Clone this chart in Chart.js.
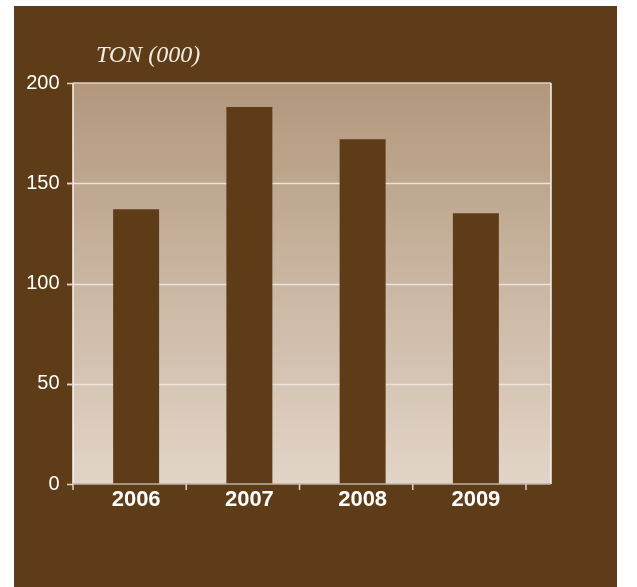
<!DOCTYPE html>
<html>
<head>
<meta charset="utf-8">
<script src="https://cdn.jsdelivr.net/npm/chart.js@4"></script>
<style>
  html, body { margin: 0; padding: 0; background: #ffffff; }
  #wrap { width: 637px; height: 587px; }
</style>
</head>
<body>
<div id="wrap"><canvas id="c" width="637" height="587"></canvas></div>
<script>
const categories = ['2006', '2007', '2008', '2009'];
const tonnage = [137, 188, 172, 135];
const yTicks = [0, 50, 100, 150, 200];
const unitTitle = 'TON (000)';

const BROWN = 'rgb(94,60,24)';

const decor = {
  id: 'decor',
  beforeDraw(chart) {
    const { ctx, chartArea, scales } = chart;
    const y = scales.y;
    const left = chartArea.left - 6.5;
    const right = 551;
    const top = y.getPixelForValue(200);
    const bottom = y.getPixelForValue(0);
    ctx.save();
    ctx.fillStyle = '#ffffff';
    ctx.fillRect(0, 0, chart.width, chart.height);
    ctx.fillStyle = BROWN;
    ctx.fillRect(14, 6, 603, 581);
    const g = ctx.createLinearGradient(0, top, 0, bottom);
    g.addColorStop(0, 'rgb(178,151,124)');
    g.addColorStop(1, 'rgb(226,213,200)');
    ctx.fillStyle = g;
    ctx.fillRect(left, top, right - left, bottom - top);
    // gridlines
    ctx.strokeStyle = 'rgb(236,228,219)';
    ctx.lineWidth = 1.5;
    yTicks.forEach(v => {
      if (v === 0 || v === 200) return;
      const py = Math.round(y.getPixelForValue(v)) + 0.5;
      ctx.beginPath();
      ctx.moveTo(left - 6, py);
      ctx.lineTo(right, py);
      ctx.stroke();
    });
    // title
    ctx.fillStyle = 'rgb(242,236,228)';
    ctx.font = 'italic 24px "Liberation Serif", "Times New Roman", serif';
    ctx.textBaseline = 'alphabetic';
    ctx.textAlign = 'left';
    ctx.fillText(unitTitle, 96, 62);
    ctx.restore();
  },
  afterDatasetsDraw(chart) {
    const { ctx, chartArea, scales } = chart;
    const y = scales.y, x = scales.x;
    const left = chartArea.left - 6.5;
    const right = 551;
    const top = y.getPixelForValue(200);
    const bottom = y.getPixelForValue(0);
    ctx.save();
    ctx.lineWidth = 1.5;
    ctx.strokeStyle = 'rgb(220,208,196)';
    ctx.beginPath(); ctx.moveTo(left, top); ctx.lineTo(right, top); ctx.stroke();
    ctx.strokeStyle = 'rgb(245,240,235)';
    ctx.beginPath(); ctx.moveTo(right, top); ctx.lineTo(right, bottom); ctx.stroke();
    ctx.strokeStyle = 'rgb(250,247,243)';
    ctx.beginPath(); ctx.moveTo(left, top); ctx.lineTo(left, bottom); ctx.stroke();
    ctx.strokeStyle = 'rgb(190,178,166)';
    ctx.beginPath(); ctx.moveTo(left, bottom); ctx.lineTo(right, bottom); ctx.stroke();
    ctx.strokeStyle = 'rgb(220,210,200)';
    yTicks.forEach(v => {
      const py = Math.round(y.getPixelForValue(v)) + 0.5;
      ctx.beginPath(); ctx.moveTo(left - 6, py); ctx.lineTo(left, py); ctx.stroke();
    });
    const cw = (chartArea.right - chartArea.left) / categories.length;
    for (let i = 0; i <= categories.length; i++) {
      const px = x.getPixelForValue(0) - cw / 2 + cw * i - 6.5;
      ctx.beginPath(); ctx.moveTo(px, bottom); ctx.lineTo(px, bottom + 6); ctx.stroke();
    }
    ctx.restore();
  }
};

new Chart(document.getElementById('c'), {
  type: 'bar',
  data: {
    labels: categories,
    datasets: [{
      data: tonnage,
      backgroundColor: BROWN,
      borderWidth: 0,
      categoryPercentage: 1,
      barPercentage: 0.406
    }]
  },
  options: {
    responsive: false,
    animation: false,
    devicePixelRatio: 1,
    layout: { padding: { top: 83, right: 104.5, left: 0, bottom: 0 } },
    plugins: { legend: { display: false }, tooltip: { enabled: false }, title: { display: false } },
    scales: {
      x: {
        grid: { display: false, drawTicks: false },
        border: { display: false },
        ticks: {
          color: '#ffffff',
          padding: 3,
          font: { family: '"Liberation Sans", Arial, sans-serif', size: 22, weight: 'bold' }
        },
        afterFit(s) { s.height = 103; }
      },
      y: {
        min: 0, max: 200,
        grid: { display: false, drawTicks: false },
        border: { display: false },
        ticks: {
          stepSize: 50,
          color: '#ffffff',
          padding: 20,
          font: { family: '"Liberation Sans", Arial, sans-serif', size: 20 }
        },
        afterFit(s) { s.width = 79.5; }
      }
    }
  },
  plugins: [decor]
});
</script>
</body>
</html>
